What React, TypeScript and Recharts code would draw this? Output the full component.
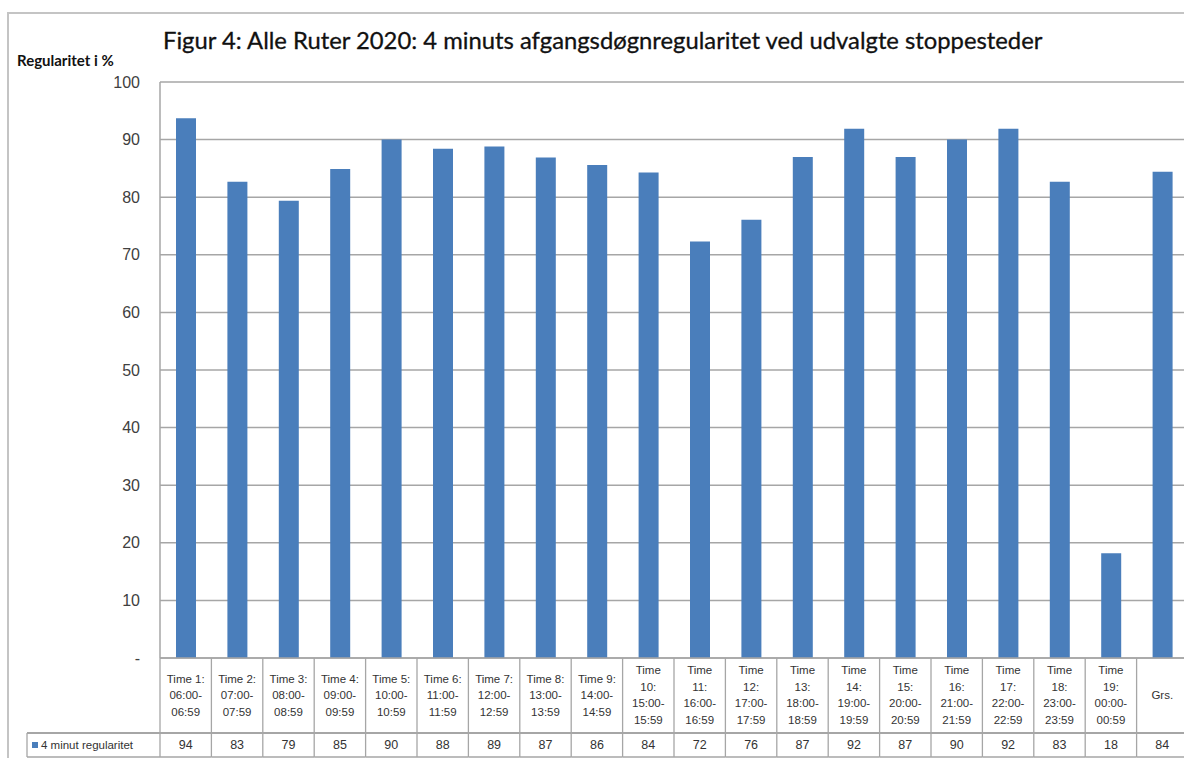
import { BarChart, Bar, XAxis, YAxis, CartesianGrid } from "recharts";

const categories = [
  "Time 1:\n06:00-\n06:59",
  "Time 2:\n07:00-\n07:59",
  "Time 3:\n08:00-\n08:59",
  "Time 4:\n09:00-\n09:59",
  "Time 5:\n10:00-\n10:59",
  "Time 6:\n11:00-\n11:59",
  "Time 7:\n12:00-\n12:59",
  "Time 8:\n13:00-\n13:59",
  "Time 9:\n14:00-\n14:59",
  "Time\n10:\n15:00-\n15:59",
  "Time\n11:\n16:00-\n16:59",
  "Time\n12:\n17:00-\n17:59",
  "Time\n13:\n18:00-\n18:59",
  "Time\n14:\n19:00-\n19:59",
  "Time\n15:\n20:00-\n20:59",
  "Time\n16:\n21:00-\n21:59",
  "Time\n17:\n22:00-\n22:59",
  "Time\n18:\n23:00-\n23:59",
  "Time\n19:\n00:00-\n00:59",
  "Grs.",
];
const regularitet = [
  93.7, 82.7, 79.4, 84.9, 90.0, 88.4, 88.8, 86.9, 85.6, 84.3,
  72.3, 76.1, 87.0, 91.9, 87.0, 90.0, 91.9, 82.7, 18.2, 84.4,
];
const yTicks = [0, 10, 20, 30, 40, 50, 60, 70, 80, 90, 100];
const seriesName = "4 minut regularitet";
const title = "Figur 4: Alle Ruter 2020: 4 minuts afgangsdøgnregularitet ved udvalgte stoppesteder";
const yLabel = "Regularitet i %";

const data = categories.map((c, i) => ({ cat: c, v: regularitet[i] }));

const PLOT_LEFT = 160;
const PLOT_W = 1028;
const BAND = PLOT_W / categories.length;
const LABEL_ROW = 75;
const VALUE_ROW = 24;
const GRID = "#a6a6a6";
const BLUE = "#4a7ebb";
const TXT = "#333";
const FONT = "'Liberation Sans', Arial, sans-serif";

function TableTick(props: any) {
  const { x, y, payload } = props;
  const i = payload.index;
  const lines = String(payload.value).split("\n");
  const left = x - BAND / 2;
  const mid = y + LABEL_ROW / 2 + 0.5;
  const rowY = y + LABEL_ROW;
  const bottom = rowY + VALUE_ROW;
  return (
    <g>
      <line x1={left} x2={left} y1={y} y2={bottom} stroke={GRID} strokeWidth={1.3} />
      <line x1={left} x2={left + BAND} y1={rowY} y2={rowY} stroke={GRID} strokeWidth={2.2} />
      <line x1={left} x2={left + BAND} y1={bottom} y2={bottom} stroke={GRID} strokeWidth={1.3} />
      {lines.map((t, k) => (
        <text
          key={k}
          x={x}
          y={mid + (k - (lines.length - 1) / 2) * 16.5}
          textAnchor="middle"
          dominantBaseline="middle"
          fontSize={11.5}
          fontFamily={FONT}
          fill={TXT}
        >
          {t}
        </text>
      ))}
      <text
        x={x}
        y={rowY + VALUE_ROW / 2 + 1}
        textAnchor="middle"
        dominantBaseline="middle"
        fontSize={12.5}
        fontFamily={FONT}
        fill={TXT}
      >
        {Math.round(regularitet[i])}
      </text>
      {i === 0 && (
        <g>
          <line x1={27} x2={left} y1={rowY} y2={rowY} stroke={GRID} strokeWidth={2.2} />
          <line x1={27} x2={left} y1={bottom} y2={bottom} stroke={GRID} strokeWidth={1.3} />
          <line x1={27} x2={27} y1={rowY} y2={bottom} stroke={GRID} strokeWidth={1.3} />
          <rect x={32} y={rowY + VALUE_ROW / 2 - 3} width={6} height={6} fill={BLUE} />
          <text
            x={41}
            y={rowY + VALUE_ROW / 2 + 1}
            dominantBaseline="middle"
            fontSize={11.5}
            fontFamily={FONT}
            fill={TXT}
          >
            {seriesName}
          </text>
        </g>
      )}
    </g>
  );
}

export default function App() {
  return (
    <div
      style={{
        position: "absolute",
        left: 0,
        top: 0,
        width: 1184,
        height: 758,
        overflow: "hidden",
        background: "#fff",
      }}
    >
      <div style={{ position: "absolute", left: 7, top: 12, width: 1184, height: 2, background: "#c4c4c4" }} />
      <div style={{ position: "absolute", left: 7, top: 12, width: 2, height: 760, background: "#c4c4c4" }} />
      <div
        style={{
          position: "absolute",
          left: 163,
          top: 26,
          fontFamily: "Lato, 'Open Sans', sans-serif",
          fontSize: 23.8,
          color: "#111",
          whiteSpace: "nowrap",
          WebkitTextStroke: "0.3px #111",
        }}
      >
        {title}
      </div>
      <div
        style={{
          position: "absolute",
          left: 17,
          top: 51,
          fontFamily: "Lato, sans-serif",
          fontWeight: 700,
          fontSize: 15,
          color: "#111",
          whiteSpace: "nowrap",
        }}
      >
        {yLabel}
      </div>
      <div style={{ position: "absolute", left: 0, top: 0 }}>
        <BarChart
          width={PLOT_LEFT + PLOT_W + 2}
          height={758}
          data={data}
          margin={{ top: 82, right: 2, bottom: 0, left: 0 }}
        >
          <CartesianGrid vertical={false} stroke={GRID} strokeWidth={1.5} />
          <XAxis
            dataKey="cat"
            interval={0}
            height={100}
            tickSize={0}
            tickMargin={0}
            tickLine={false}
            axisLine={{ stroke: GRID, strokeWidth: 1.5 }}
            tick={(p: any) => <TableTick {...p} />}
          />
          <YAxis
            width={PLOT_LEFT}
            domain={[0, 100]}
            ticks={yTicks}
            interval={0}
            tickLine={false}
            tickSize={0}
            tickMargin={20}
            axisLine={{ stroke: GRID, strokeWidth: 1.5 }}
            tickFormatter={(v: number) => (v === 0 ? "-" : String(v))}
            tick={{ fontSize: 16, fill: "#404040", fontFamily: FONT }}
          />
          <Bar dataKey="v" name={seriesName} fill={BLUE} barSize={20} isAnimationActive={false} />
        </BarChart>
      </div>
    </div>
  );
}
